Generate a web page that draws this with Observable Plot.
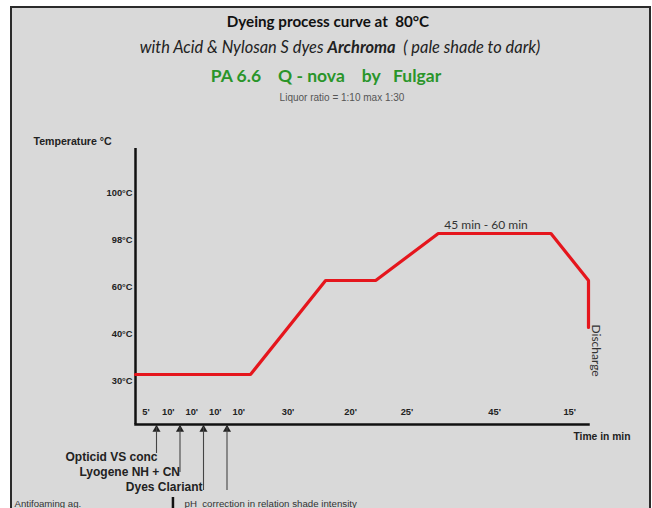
<!DOCTYPE html>
<html>
<head>
<meta charset="utf-8">
<script src="https://cdn.jsdelivr.net/npm/d3@7"></script>
<script src="https://cdn.jsdelivr.net/npm/@observablehq/plot@0.6"></script>
<style>
  body { margin: 0; background: #fff; }
  #root { position: relative; width: 652px; height: 508px; overflow: hidden; }
  #panel { position: absolute; left: 10px; top: 6px; width: 637px; height: 520px; background: #d9d9d9; border: 2px solid #2b2b2b; border-bottom: none; }
  .hd { position: absolute; text-align: center; line-height: 1; white-space: pre; color: #111; }
  #title { top: 12px; left: 0; width: 656px; font: bold 15.2px Lato, sans-serif; }
  #sub { top: 37px; left: 0; width: 680px; font: italic 16.4px Lato, sans-serif; color: #222; }
  #green { top: 65px; left: 0; width: 652px; font: bold 17.5px Lato, sans-serif; color: #2a952a; }
  #liq { top: 92px; left: 0; width: 684px; font: 10px "Liberation Sans", Arial, sans-serif; color: #555; }
  #chart { position: absolute; left: 0; top: 110px; }
</style>
</head>
<body>
<div id="root">
  <div id="panel"></div>
  <div class="hd" id="title">Dyeing process curve at  80°C</div>
  <div class="hd" id="sub">with Acid &amp; Nylosan S dyes <b>Archroma</b>  ( pale shade to dark)</div>
  <div class="hd" id="green">PA 6.6    Q - nova    by   Fulgar</div>
  <div class="hd" id="liq">Liquor ratio = 1:10 max 1:30</div>
  <div id="chart"></div>
</div>
<script>
// Temperature levels shown on the y axis (°C)
const tempLevels = [30, 40, 60, 98, 100];
// Step durations along the time axis (minutes) and their labels
const stepMinutes = [5, 10, 10, 10, 10, 30, 20, 25, 45, 15];
const stepLabels = ["5'", "10'", "10'", "10'", "10'", "30'", "20'", "25'", "45'", "15'"];
// Temperature curve: time (cumulative min) and temperature (°C)
const curveTime = [0, 45, 75, 95, 120, 165, 180, 180];
const curveTemp = [30, 30, 60, 60, 98, 98, 60, 40];
// Additions (arrows) along the time axis
const addTime = [5, 15, 25, 35];
const addLabel = ["Opticid VS conc", "Lyogene NH + CN", "Dyes Clariant", ""];

const curve = curveTime.map((t, i) => ({t, temp: curveTemp[i]}));
let acc = 0;
const steps = stepMinutes.map((m, i) => { const s = {mid: acc + m / 2, label: stepLabels[i]}; acc += m; return s; });
const adds = addTime.map((t, i) => ({t, label: addLabel[i], row: i}));

const arrowDepth = [29, 48, 66, 66];
const labelDepth = [33, 48, 63];
const labelDx = [1, 0, -1];

const bold = {fontWeight: "bold", fontFamily: "Liberation Sans, Arial, sans-serif"};

const marks = [
  Plot.axisY({tickFormat: d => `${d}°C`, tickSize: 0, tickPadding: 3, dy: 7, fontSize: 9.3, fontWeight: "bold", fill: "#222", label: null}),
  Plot.ruleX([0], {stroke: "#111", strokeWidth: 2.5}),
  Plot.frame({anchor: "bottom", stroke: "#111", strokeWidth: 2.5}),
  Plot.line(curve, {x: "t", y: "temp", stroke: "#e5161d", strokeWidth: 3.2, strokeLinejoin: "miter"}),
  Plot.text(steps, {x: "mid", text: "label", frameAnchor: "bottom", dy: -10, fontSize: 9.3, fill: "#222", ...bold}),
  Plot.text(["45 min - 60 min"], {x: [120], y: [98], textAnchor: "start", dx: 6, dy: -8, fontSize: 12, fill: "#333", fontFamily: "Lato, sans-serif"}),
  Plot.text(["Discharge"], {x: [180], y: [40], rotate: 90, textAnchor: "start", dx: 7, dy: -3, fontSize: 12, fill: "#333", fontFamily: "Lato, sans-serif"}),
  Plot.text(["Temperature °C"], {frameAnchor: "top-left", textAnchor: "start", lineAnchor: "middle", dx: -102, dy: -7, fontSize: 10.6, fill: "#222", ...bold}),
  Plot.text(["Time in min"], {frameAnchor: "bottom-right", textAnchor: "end", lineAnchor: "middle", dx: 42, dy: 12, fontSize: 10.3, fill: "#222", ...bold}),
  Plot.text(["Antifoaming ag."], {frameAnchor: "bottom-left", textAnchor: "start", lineAnchor: "middle", dx: -121, dy: 79, fontSize: 9.6, fill: "#333", fontFamily: "Liberation Sans, Arial, sans-serif"}),
  Plot.text(["pH  correction in relation shade intensity"], {frameAnchor: "bottom-left", textAnchor: "start", lineAnchor: "middle", dx: 49, dy: 79, fontSize: 9.7, fill: "#333", fontFamily: "Liberation Sans, Arial, sans-serif"}),
  Plot.ruleX([12], {insetTop: 349, insetBottom: -84, stroke: "#111", strokeWidth: 2.5}),
  Plot.dot(adds, {x: "t", frameAnchor: "bottom", dy: 5, symbol: "triangle", r: 3, fill: "#222", stroke: null})
];
adds.forEach((a, i) => {
  marks.push(Plot.ruleX([a], {x: "t", insetTop: 279, insetBottom: -arrowDepth[i], stroke: "#444", strokeWidth: 1.1}));
  if (a.label) marks.push(Plot.text([a], {x: "t", text: "label", frameAnchor: "bottom", textAnchor: "end", lineAnchor: "middle", dx: labelDx[i], dy: labelDepth[i], fontSize: 12, fill: "#222", ...bold}));
});

const chart = Plot.plot({
  width: 652,
  height: 398,
  marginLeft: 135,
  marginRight: 64,
  marginTop: 38,
  marginBottom: 84,
  style: {background: "transparent", fontFamily: "Liberation Sans, Arial, sans-serif", color: "#222", overflow: "visible"},
  x: {type: "linear", domain: [0, 5, 45, 180], range: [135, 156, 250, 588], axis: null},
  y: {type: "point", domain: tempLevels, range: [264, 76], padding: 0, axis: null},
  marks
});
document.getElementById("chart").appendChild(chart);
</script>
</body>
</html>
